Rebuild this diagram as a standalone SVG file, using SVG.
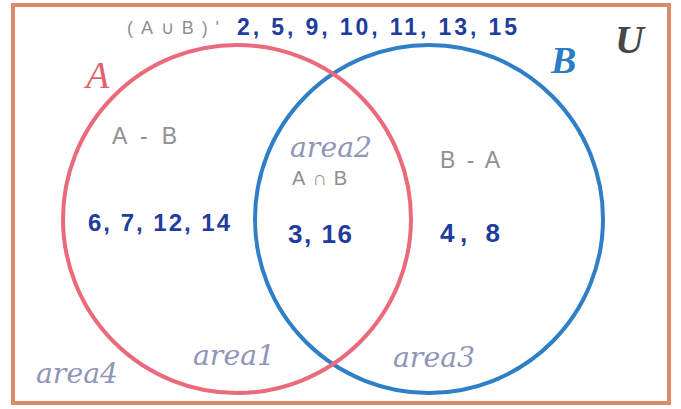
<svg xmlns="http://www.w3.org/2000/svg" width="681" height="409" viewBox="0 0 681 409">
<style>
.set{fill:none;stroke-width:4}
.num{font-family:"Liberation Sans",Arial,sans-serif;font-weight:bold;fill:#1f3d9e}
.hand{font-family:"Liberation Sans",Arial,sans-serif;fill:#909090}
.area{font-family:"DejaVu Serif","Liberation Serif",serif;font-style:italic;fill:#8f97b8;font-size:27px}
.lbl{font-family:"Liberation Serif","Times New Roman",serif;font-style:italic}
</style>
<rect width="681" height="409" fill="#ffffff"/>
<g id="universe">
<rect x="13" y="5" width="656" height="398" fill="#ffffff" stroke="#d98b6b" stroke-width="4"/>
<text class="lbl" x="615" y="53" font-size="40" font-weight="bold" fill="#474747">U</text>
<text class="hand" x="127" y="34" font-size="18" textLength="92" lengthAdjust="spacing">(A∪B)'</text>
<text class="num" x="237" y="35" font-size="23" textLength="280" lengthAdjust="spacing">2, 5, 9, 10, 11, 13, 15</text>
<text class="area" x="36" y="383" textLength="82" lengthAdjust="spacingAndGlyphs">area4</text>
</g>
<g id="setB">
<circle class="set" cx="429" cy="219" r="174" stroke="#2e7fc7"/>
<text class="lbl" x="551" y="73" font-size="38" font-weight="bold" fill="#2b7cc4">B</text>
<text class="hand" x="440" y="168" font-size="23" textLength="60" lengthAdjust="spacing">B - A</text>
<text class="num" x="440" y="242" font-size="26" textLength="60" lengthAdjust="spacing">4, 8</text>
<text class="area" x="393" y="367" textLength="82" lengthAdjust="spacingAndGlyphs">area3</text>
</g>
<g id="setA">
<circle class="set" cx="237" cy="219" r="174" stroke="#ea6a7b"/>
<text class="lbl" x="86" y="88" font-size="38" fill="#e0606e">A</text>
<text class="hand" x="112" y="144" font-size="23" textLength="65" lengthAdjust="spacing">A - B</text>
<text class="num" x="88" y="231" font-size="24" textLength="142" lengthAdjust="spacing">6, 7, 12, 14</text>
<text class="area" x="193" y="365" textLength="82" lengthAdjust="spacingAndGlyphs">area1</text>
</g>
<g id="intersection">
<text class="area" x="290" y="157" textLength="82" lengthAdjust="spacingAndGlyphs">area2</text>
<text class="hand" x="292" y="185" font-size="20" textLength="55" lengthAdjust="spacing">A∩B</text>
<text class="num" x="288" y="243" font-size="26" textLength="64" lengthAdjust="spacing">3, 16</text>
</g>
</svg>
